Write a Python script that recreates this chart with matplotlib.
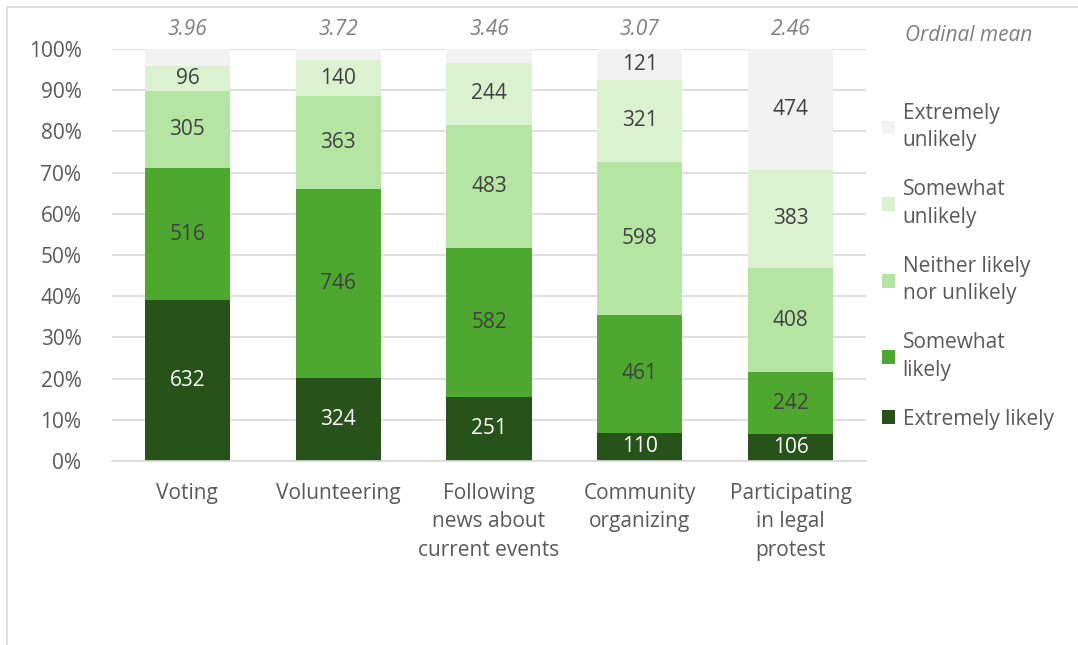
"""
Stacked 100% bar chart of civic engagement likelihood.
"""

import matplotlib.pyplot as plt
from matplotlib.patches import Rectangle

categories = [
    "Voting",
    "Volunteering",
    "Following\nnews about\ncurrent events",
    "Community\norganizing",
    "Participating\nin legal\nprotest",
]
levels = [
    "Extremely likely",
    "Somewhat\nlikely",
    "Neither likely\nnor unlikely",
    "Somewhat\nunlikely",
    "Extremely\nunlikely",
]
extremely_likely = [632, 324, 251, 110, 106]
somewhat_likely = [516, 746, 582, 461, 242]
neither = [305, 363, 483, 598, 408]
somewhat_unlikely = [96, 140, 244, 321, 383]
extremely_unlikely = [68, 45, 53, 121, 474]
ordinal_means = ["3.96", "3.72", "3.46", "3.07", "2.46"]

colors = ["#27521A", "#4EA72E", "#B4E5A2", "#DAF2D0", "#F2F2F2"]
label_colors = ["white", "#404040", "#404040", "#404040", "#404040"]

plt.rcParams["font.family"] = ["Open Sans", "DejaVu Sans"]
text_color = "#595959"
fs = 15

fig = plt.figure(figsize=(10.78, 6.45), dpi=100)
fig.patches.append(
    Rectangle((7 / 1078, -0.1), 1.2, 1 - 7 / 645 + 0.1, transform=fig.transFigure,
              fill=False, edgecolor="#D9D9D9", linewidth=1.2)
)
ax = fig.add_axes([112 / 1078, (645 - 461) / 645, 754 / 1078, 412 / 645])

series = [extremely_likely, somewhat_likely, neither, somewhat_unlikely, extremely_unlikely]
totals = [sum(vals) for vals in zip(*series)]
x = range(len(categories))
bottoms = [0.0] * len(categories)

for vals, color, lab, lcolor in zip(series, colors, levels, label_colors):
    shares = [v / t for v, t in zip(vals, totals)]
    ax.bar(x, shares, width=0.565, bottom=bottoms, color=color, label=lab, zorder=2)
    for i, (v, s) in enumerate(zip(vals, shares)):
        if s > 0.05:
            ax.text(i, bottoms[i] + s / 2, str(v), ha="center", va="center",
                    fontsize=fs, color=lcolor, zorder=3)
    bottoms = [b + s for b, s in zip(bottoms, shares)]

for i, m in enumerate(ordinal_means):
    ax.text(i, 1.048, m, ha="center", va="center", fontsize=fs,
            style="italic", color="#7F7F7F")
ax.text(1.052, 1.033, "Ordinal mean", transform=ax.transAxes, ha="left",
        va="center", fontsize=fs, style="italic", color="#7F7F7F")

ax.set_xlim(-0.5, len(categories) - 0.5)
ax.set_ylim(0, 1)
ax.set_yticks([i / 10 for i in range(11)])
ax.set_yticklabels([f"{i * 10}%" for i in range(11)])
ax.set_xticks(list(x))
ax.set_xticklabels(categories, linespacing=1.45)
ax.tick_params(axis="both", length=0, labelsize=fs, colors=text_color)
ax.tick_params(axis="y", pad=22)
ax.tick_params(axis="x", pad=16)
ax.grid(axis="y", color="#D9D9D9", linewidth=1.2, zorder=0)
ax.set_axisbelow(True)
for side in ["top", "right", "left"]:
    ax.spines[side].set_visible(False)
ax.spines["bottom"].set_color("#D9D9D9")
ax.spines["bottom"].set_linewidth(1.2)

handles, labels = ax.get_legend_handles_labels()
leg = ax.legend(handles[::-1], labels[::-1], loc="upper left",
                bbox_to_anchor=(1.01, 0.89), frameon=False, fontsize=fs,
                labelcolor=text_color, handlelength=0.65, handleheight=0.65,
                handletextpad=0.35, labelspacing=1.35, borderaxespad=0)
for t in leg.get_texts():
    t.set_linespacing(1.4)

fig.savefig("out.png", dpi=100)
